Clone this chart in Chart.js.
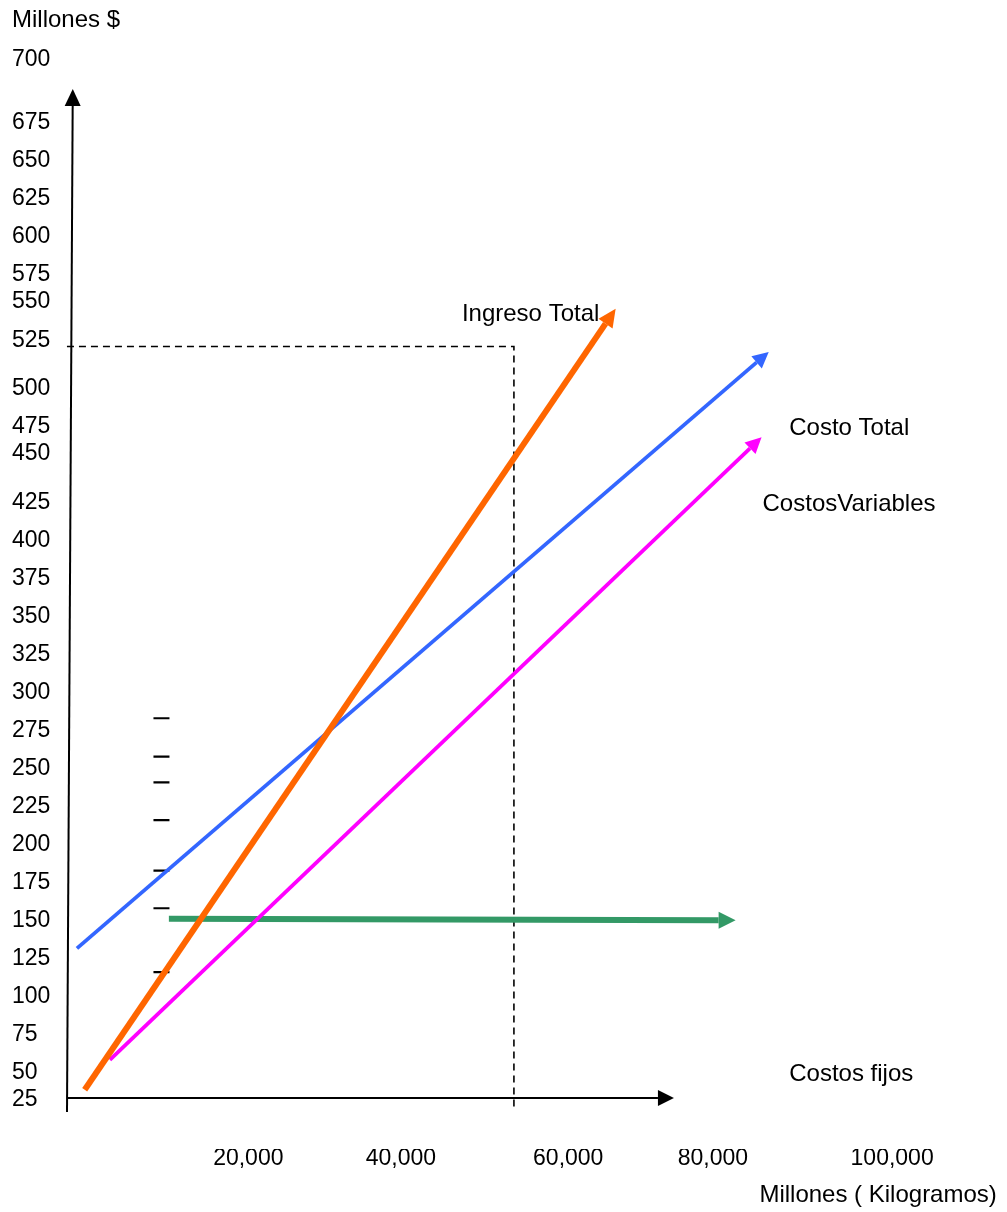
<!DOCTYPE html>
<html lang="es">
<head>
<meta charset="utf-8">
<title>Punto de equilibrio</title>
<script src="https://cdn.jsdelivr.net/npm/chart.js@4/dist/chart.umd.min.js"></script>
<style>
  html, body { margin: 0; padding: 0; background: #fff; }
  #wrap { width: 1007px; height: 1212px; position: relative; }
</style>
</head>
<body>
<div id="wrap"><canvas id="grafico"></canvas></div>
<script>
// ---- Etiquetas de los ejes ----
const yTickValues = [25, 50, 75, 100, 125, 150, 175, 200, 225, 250, 275, 300, 325, 350,
                     375, 400, 425, 450, 475, 500, 525, 550, 575, 600, 625, 650, 675, 700];
const xTickValues = [20000, 40000, 60000, 80000, 100000];
const xTickLabels = ['20,000', '40,000', '60,000', '80,000', '100,000'];

// ---- Rectas: cantidad (kg) vs millones $ ----
const ingresoTotalX = [2000, 65100];
const ingresoTotalY = [39, 543];
const costoTotalX = [1060, 83400];
const costoTotalY = [132, 517.5];
const costosVariablesX = [5050, 82600];
const costosVariablesY = [58.6, 461];
const costosFijosX = [12200, 78800];
const costosFijosY = [151.5, 150.5];

// ---- Guía punteada del punto de lectura ----
const guiaX = [-150, 54000, 54000];
const guiaY = [528, 528, 26];

// ---- Ejes trazados con flecha ----
const ejeHorizontalX = [-145, 71450];
const ejeHorizontalY = [33.5, 33.5];
const ejeVerticalX = [-145, 543];
const ejeVerticalY = [24.3, 686.2];

// ---- Marcas sueltas junto al eje ----
const marcasX = [11300, 11300, 11300, 11300, 11300, 11300, 11300];
const marcasY = [283.4, 258.1, 241.2, 216.4, 183.1, 158.4, 116.3];

// ---- Nombres de las rectas ----
const nombres = ['Ingreso Total', 'Costo Total', 'CostosVariables', 'Costos fijos'];

// ---- Disposición (no son datos) ----
const yTickNudge = { 25: 7.2, 450: 7.7, 525: 6.8, 550: 7.4, 700: 16.8 };
const xTickNudge = { 20000: 1820, 40000: 300, 60000: 580, 80000: -1900, 100000: -180 };
const nombreAnclas = [[47700, 549], [87350, 474], [84120, 424], [87350, 49]];

const FONT = "'Liberation Sans', Arial, sans-serif";

const puntos = (xs, ys) => xs.map((x, i) => ({ x, y: ys[i] }));

// Punta de flecha al final de cada recta que la pide
const flechas = {
  id: 'flechas',
  afterDatasetsDraw(chart) {
    const ctx = chart.ctx;
    chart.data.datasets.forEach((ds, i) => {
      if (!ds.flecha) return;
      const pts = chart.getDatasetMeta(i).data;
      const a = pts[pts.length - 2], b = pts[pts.length - 1];
      const dx = b.x - a.x, dy = b.y - a.y, len = Math.hypot(dx, dy);
      const ux = dx / len, uy = dy / len;
      const tipX = b.x + ux * ds.flecha.largo, tipY = b.y + uy * ds.flecha.largo;
      const hw = ds.flecha.ancho / 2;
      ctx.save();
      ctx.fillStyle = ds.borderColor;
      ctx.beginPath();
      ctx.moveTo(tipX, tipY);
      ctx.lineTo(b.x - uy * hw, b.y + ux * hw);
      ctx.lineTo(b.x + uy * hw, b.y - ux * hw);
      ctx.closePath();
      ctx.fill();
      ctx.restore();
    });
  }
};

// Nombres de las rectas
const rotulos = {
  id: 'rotulos',
  afterDraw(chart) {
    const ctx = chart.ctx;
    const xs = chart.scales.x, ys = chart.scales.y;
    ctx.save();
    ctx.font = '24px ' + FONT;
    ctx.fillStyle = '#000';
    ctx.textAlign = 'left';
    ctx.textBaseline = 'middle';
    nombres.forEach((t, i) => {
      const [vx, vy] = nombreAnclas[i];
      ctx.fillText(t, xs.getPixelForValue(vx), ys.getPixelForValue(vy));
    });
    ctx.restore();
  }
};

const lineaBase = { showLine: true, pointRadius: 0, pointHoverRadius: 0, tension: 0, fill: false, borderCapStyle: 'butt' };

new Chart(document.getElementById('grafico'), {
  type: 'scatter',
  data: {
    datasets: [
      Object.assign({}, lineaBase, {
        label: 'Ingreso Total', data: puntos(ingresoTotalX, ingresoTotalY),
        borderColor: '#FF6600', borderWidth: 6, flecha: { largo: 18, ancho: 17 }
      }),
      Object.assign({}, lineaBase, {
        label: 'Costos Variables', data: puntos(costosVariablesX, costosVariablesY),
        borderColor: '#FF00FF', borderWidth: 3.8, flecha: { largo: 16, ancho: 16 }
      }),
      Object.assign({}, lineaBase, {
        label: 'Costo Total', data: puntos(costoTotalX, costoTotalY),
        borderColor: '#3366FF', borderWidth: 3.8, flecha: { largo: 16, ancho: 16 }
      }),
      Object.assign({}, lineaBase, {
        label: 'Costos fijos', data: puntos(costosFijosX, costosFijosY),
        borderColor: '#339966', borderWidth: 6, flecha: { largo: 17, ancho: 17 }
      }),
      Object.assign({}, lineaBase, {
        label: 'guia', data: puntos(guiaX, guiaY),
        borderColor: '#000', borderWidth: 1.6, borderDash: [7, 5]
      }),
      Object.assign({}, lineaBase, {
        label: 'eje x', data: puntos(ejeHorizontalX, ejeHorizontalY),
        borderColor: '#000', borderWidth: 2, flecha: { largo: 16, ancho: 16 }
      }),
      Object.assign({}, lineaBase, {
        label: 'eje y', data: puntos(ejeVerticalX, ejeVerticalY),
        borderColor: '#000', borderWidth: 2, flecha: { largo: 17, ancho: 16 }
      }),
      {
        label: 'marcas', data: puntos(marcasX, marcasY), showLine: false,
        pointStyle: 'line', pointRadius: 8, pointHoverRadius: 8,
        borderColor: '#000', backgroundColor: '#000', borderWidth: 2.2
      }
    ]
  },
  options: {
    responsive: true,
    maintainAspectRatio: false,
    animation: false,
    events: [],
    layout: { padding: { left: 12, right: 7, top: 0, bottom: 0 } },
    plugins: {
      legend: { display: false },
      tooltip: { enabled: false },
      title: {
        display: true, text: 'Millones $', align: 'start', color: '#000',
        font: { family: FONT, size: 24, weight: 'normal', lineHeight: 1.2 },
        padding: { top: 6, bottom: 19.8 }
      }
    },
    scales: {
      x: {
        type: 'linear', min: -750, max: 112500, bounds: 'data',
        grid: { display: false, drawTicks: false }, border: { display: false },
        afterBuildTicks: (s) => { s.ticks = xTickValues.map(v => ({ value: v + (xTickNudge[v] || 0) })); },
        afterFit: (s) => { s.height = 63; },
        ticks: {
          autoSkip: false, maxRotation: 0, padding: -2, color: '#000',
          font: { family: FONT, size: 23, lineHeight: 1 },
          callback: (v, i) => xTickLabels[i]
        },
        title: {
          display: true, text: 'Millones ( Kilogramos)', align: 'end', color: '#000',
          font: { family: FONT, size: 24, lineHeight: 1.2 }, padding: { top: 0, bottom: 2.6 }
        }
      },
      y: {
        type: 'linear', min: 0, max: 720, bounds: 'data',
        grid: { display: false, drawTicks: false }, border: { display: false },
        afterBuildTicks: (s) => { s.ticks = yTickValues.map(v => ({ value: v + (yTickNudge[v] || 0) })); },
        afterFit: (s) => { s.width = 50; },
        ticks: {
          autoSkip: false, crossAlign: 'far', padding: 0, color: '#000',
          font: { family: FONT, size: 23, lineHeight: 1 },
          callback: (v, i) => String(yTickValues[i])
        }
      }
    }
  },
  plugins: [flechas, rotulos]
});
</script>
</body>
</html>
